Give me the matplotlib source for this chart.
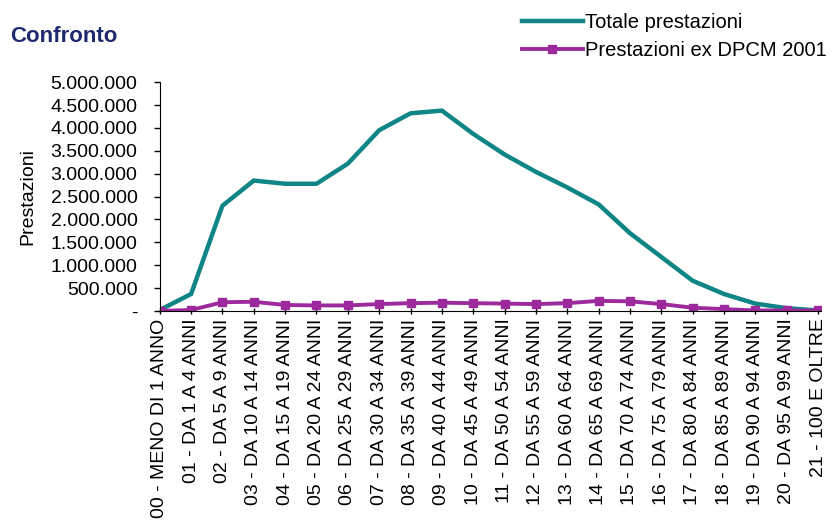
import matplotlib.pyplot as plt
from matplotlib.ticker import FuncFormatter

plt.rcParams['font.family'] = ['Liberation Sans', 'DejaVu Sans']

categorie = [
    "00 - MENO DI 1 ANNO", "01 - DA 1 A 4 ANNI", "02 - DA 5 A 9 ANNI",
    "03 - DA 10 A 14 ANNI", "04 - DA 15 A 19 ANNI", "05 - DA 20 A 24 ANNI",
    "06 - DA 25 A 29 ANNI", "07 - DA 30 A 34 ANNI", "08 - DA 35 A 39 ANNI",
    "09 - DA 40 A 44 ANNI", "10 - DA 45 A 49 ANNI", "11 - DA 50 A 54 ANNI",
    "12 - DA 55 A 59 ANNI", "13 - DA 60 A 64 ANNI", "14 - DA 65 A 69 ANNI",
    "15 - DA 70 A 74 ANNI", "16 - DA 75 A 79 ANNI", "17 - DA 80 A 84 ANNI",
    "18 - DA 85 A 89 ANNI", "19 - DA 90 A 94 ANNI", "20 - DA 95 A 99 ANNI",
    "21 - 100 E OLTRE",
]
totale = [20000, 370000, 2300000, 2850000, 2780000, 2780000, 3220000,
          3950000, 4320000, 4380000, 3870000, 3420000, 3040000, 2700000,
          2330000, 1700000, 1180000, 660000, 370000, 160000, 60000, 10000]
ex_dpcm = [0, 20000, 190000, 200000, 130000, 120000, 120000, 150000,
           170000, 180000, 170000, 160000, 150000, 170000, 220000, 210000,
           150000, 70000, 40000, 10000, 10000, 10000]

teal = "#0f8585"
viola = "#9c2a9c"

fig = plt.figure(figsize=(8.32, 5.27), dpi=100)
ax = fig.add_axes([0.192, 0.41, 0.795, 0.434])

x = list(range(len(categorie)))
ax.plot(x, totale, color=teal, lw=3.2, label="Totale prestazioni")
ax.plot(x, ex_dpcm, color=viola, lw=2.8, marker="s", ms=6,
        label="Prestazioni ex DPCM 2001")

ax.set_xlim(0, 21.1)
ax.set_ylim(0, 5000000)
ax.set_yticks(range(0, 5000001, 500000))


def fmt(v, pos):
    if v == 0:
        return "-"
    return f"{int(v):,}".replace(",", ".")


ax.yaxis.set_major_formatter(FuncFormatter(fmt))
ax.set_xticks(x)
ax.set_xticklabels(categorie, rotation=90, fontsize=14)
ax.tick_params(axis="y", labelsize=14, length=4, width=1, pad=12)
ax.tick_params(axis="x", length=4, width=1, direction="inout")
for s in ["top", "right"]:
    ax.spines[s].set_visible(False)
ax.set_ylabel("Prestazioni", fontsize=14, labelpad=10)

fig.text(0.012, 0.92, "Confronto", fontsize=16, fontweight="bold",
         color="#1f2a6e")
fig.legend(loc="upper right", bbox_to_anchor=(1.015, 1.01), frameon=False,
           fontsize=14.5, handlelength=3.0, handletextpad=0.1,
           labelspacing=0.45)

fig.savefig("out.png", dpi=100)
